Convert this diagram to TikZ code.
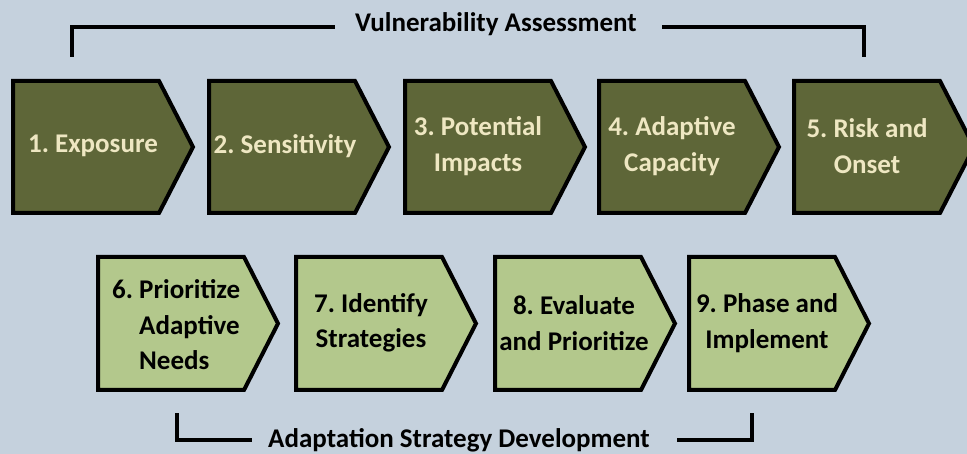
\documentclass[tikz,border=0pt]{standalone}
\usepackage{fontspec}
\setmainfont{Carlito}
\frenchspacing
\definecolor{bgc}{HTML}{C5D1DD}
\definecolor{darkfill}{HTML}{5E6638}
\definecolor{lightfill}{HTML}{B3C88C}
\definecolor{creamtext}{HTML}{EEE7C2}
\newcommand\chevronbox[4]{%
  \draw[chevline, fill=#4] (#1,#2) -- (#1+146,#2) -- (#1+180,{(#2+#3)/2}) -- (#1+146,#3) -- (#1,#3) -- cycle;}
\tikzset{
  chevline/.style={line width=4pt, line join=miter, draw=black},
  bracketline/.style={line width=4pt, line cap=butt, line join=miter, draw=black},
  steptext/.style={inner sep=0pt, font=\frenchspacing\bfseries\fontsize{27}{35.5}\selectfont, align=center},
  darktext/.style={steptext, text=creamtext},
  lighttext/.style={steptext, text=black},
  headtext/.style={inner sep=0pt, anchor=base, font=\bfseries\fontsize{27}{35}\selectfont, text=black}
}
\begin{document}
\begin{tikzpicture}[x=1pt,y=-1pt]
\fill[bgc] (0,0) rectangle (967,454);
\useasboundingbox (0,0) rectangle (967,454);
\clip (0,0) rectangle (967,454);
% top row
\chevronbox{13}{81}{213}{darkfill}
\chevronbox{209}{81}{213}{darkfill}
\chevronbox{405}{81}{213}{darkfill}
\chevronbox{599}{81}{213}{darkfill}
\chevronbox{794}{81}{213}{darkfill}
% bottom row
\chevronbox{98}{257}{390}{lightfill}
\chevronbox{296}{257}{390}{lightfill}
\chevronbox{495}{257}{390}{lightfill}
\chevronbox{689}{257}{390}{lightfill}
% texts
\node[darktext] (n1) at (93,146) {1. Exposure};
\node[darktext] (n2) at (285,146) {2. Sensitivity};
\node[darktext] (n3) at (478,146) {3. Potential\\Impacts};
\node[darktext] (n4) at (672,146) {4. Adaptive\\Capacity};
\node[darktext] (n5) at (867,146) {5. Risk and\\Onset};
\node[lighttext, align=left, anchor=west] (n6) at (112,325) {6. Prioritize\\\phantom{6. }Adaptive\\\phantom{6. }Needs};
\node[lighttext] (n7) at (371,323) {7. Identify\\Strategies};
\node[lighttext] (n8) at (574,323) {8. Evaluate\\and Prioritize};
\node[lighttext] (n9) at (767,323) {9. Phase and\\Implement};
% headings
\node[headtext] (va) at (496,32) {Vulnerability Assessment};
\node[headtext] (asd) at (459,447) {Adaptation Strategy Development};
% brackets
\coordinate (vaL) at (72,57);
\coordinate (vaLend) at (335,27);
\coordinate (vaR) at (864,57);
\coordinate (vaRend) at (662,27);
\draw[bracketline] (vaL) |- (vaLend);
\draw[bracketline] (vaR) |- (vaRend);
\coordinate (asdL) at (177,413);
\coordinate (asdLend) at (252,440);
\coordinate (asdR) at (752,413);
\coordinate (asdRend) at (677,440);
\draw[bracketline] (asdL) |- (asdLend);
\draw[bracketline] (asdR) |- (asdRend);
\end{tikzpicture}
\end{document}
